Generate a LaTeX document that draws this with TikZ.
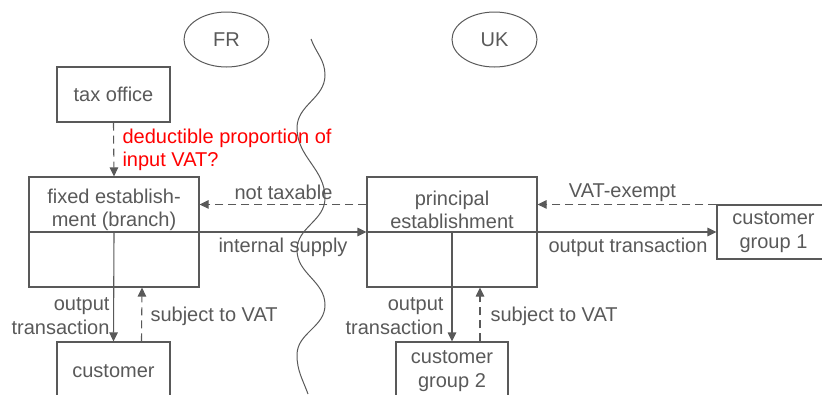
\documentclass[tikz,border=0pt]{standalone}
\usepackage{fontspec}
\setmainfont{Liberation Sans}
\usetikzlibrary{arrows.meta}
\definecolor{linegray}{HTML}{595959}
\begin{document}
\begin{tikzpicture}[x=1pt,y=1pt,line width=1.1pt,color=linegray,
  font=\fontsize{20}{23.5}\selectfont]
\tikzstyle{every node}+=[inner sep=0pt]
\tikzstyle{box}=[draw, rectangle]
\tikzstyle{arr}=[-{Triangle[length=9pt,width=8.5pt]}]
\tikzstyle{dasharr}=[arr, dash pattern=on 8pt off 5pt]
\useasboundingbox (0,0) rectangle (822,-394);
% countries
\draw [line width=1pt] (226.5,-39.5) ellipse (42.5 and 27.5);
\node (fr) at (226.5,-40) {FR};
\draw [line width=1pt] (494.5,-39.5) ellipse (42.5 and 27.5);
\node (uk) at (494.5,-40) {UK};
% border
\draw [line width=1pt] (311,-39) to[out=-70,in=90] (325,-75) to[out=-90,in=90] (297,-128)
  to[out=-90,in=90] (325,-198) to[out=-90,in=90] (297,-250) to[out=-90,in=90] (325,-305)
  to[out=-90,in=90] (297,-355) to[out=-90,in=110] (308,-394);
% boxes
\node [box, minimum width=113pt, minimum height=55pt] (tax) at (113.5,-94.5) {tax office};
\node [box, minimum width=170pt, minimum height=110pt] (branch) at (114,-232) {};
\node [align=center] (branchtext) at (114,-210) {fixed establish-\\ment (branch)};
\node [box, minimum width=170pt, minimum height=110pt] (principal) at (452,-232) {};
\node [align=center] (principaltext) at (452,-210) {principal\\establishment};
\node [box, minimum width=113pt, minimum height=54pt, align=center] (cgone) at (773.5,-232) {customer\\group 1};
\node [box, minimum width=113pt, minimum height=58pt] (customer) at (113.5,-371) {customer};
\node [box, minimum width=112pt, minimum height=58pt, align=center] (cgtwo) at (452,-371) {customer\\group 2};
% flows
\draw [dasharr] (tax.south) -- (branch.north);
\node [anchor=west, align=left, text=red] (deduct) at (122,-150) {deductible proportion of\\input VAT?};
\draw [arr] (branch.west) -- (principal.west);
\draw [arr] (principal.west) -- (cgone.west);
\draw [dasharr] (principal.west |- cgone.north) -- (branch.east |- cgone.north);
\draw [dasharr] (cgone.north west) -- (principal.east |- cgone.north);
\node (nottax) at (283.5,-192) {not taxable};
\node (intsup) at (283,-247) {internal supply};
\node (exempt) at (622.5,-193) {VAT-exempt};
\node (outone) at (628,-247) {output transaction};
\draw [arr] (branch.center) -- (customer.north);
\draw [dasharr] ([xshift=28pt]customer.north) -- ([xshift=28pt]branch.south);
\draw [arr] (principal.center) -- (cgtwo.north);
\draw [dasharr] ([xshift=28pt]cgtwo.north) -- ([xshift=28pt]principal.south);
\node [anchor=east, align=right] (outfr) at (110,-316) {output\\transaction};
\node [anchor=west] (vatfr) at (150,-316) {subject to VAT};
\node [anchor=east, align=right] (outuk) at (444,-316) {output\\transaction};
\node [anchor=west] (vatuk) at (490,-316) {subject to VAT};
\end{tikzpicture}
\end{document}
